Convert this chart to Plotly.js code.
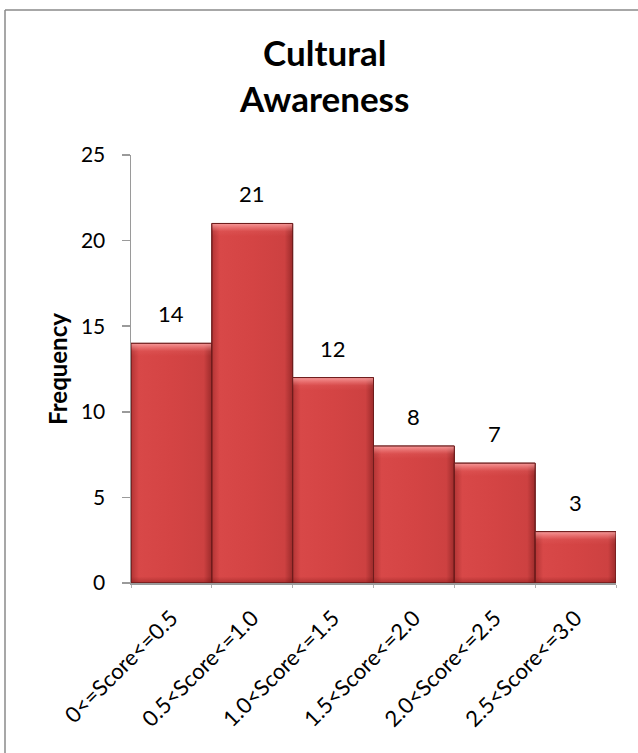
<!DOCTYPE html>
<html>
<head>
<meta charset="utf-8">
<script src="https://cdn.plot.ly/plotly-3.0.1.min.js"></script>
<style>
  html, body { margin: 0; padding: 0; background: #fff; overflow: hidden; }
  #chart { width: 638px; height: 753px; overflow: hidden; }
</style>
</head>
<body>
<div id="chart"></div>
<script>
// Score bins and how many respondents fell in each
const categories = [
  "0<=Score<=0.5",
  "0.5<Score<=1.0",
  "1.0<Score<=1.5",
  "1.5<Score<=2.0",
  "2.0<Score<=2.5",
  "2.5<Score<=3.0"
];
const frequency = [14, 21, 12, 8, 7, 3];
const yTicks = [0, 5, 10, 15, 20, 25];

const font = "Lato, 'Open Sans', sans-serif";

const trace = {
  type: "bar",
  x: categories,
  y: frequency,
  marker: {
    color: "#D44444",
    line: { color: "#6E1C1C", width: 1 }
  },
  hoverinfo: "x+y"
};

// value labels sit a little above each bar
const valueLabels = categories.map((c, i) => ({
  x: c,
  y: frequency[i],
  xref: "x",
  yref: "y",
  text: String(frequency[i]),
  showarrow: false,
  yanchor: "bottom",
  yshift: 14,
  font: { family: font, size: 22, color: "#000" }
}));

// chart frame: only the top and left edges fall inside the page
const frameLine = { color: "#8a8a8a", width: 1.5 };
const frameLeft = -0.2598, frameTop = 1.3388;

const layout = {
  width: 638,
  height: 753,
  margin: { l: 131, r: 22, t: 155, b: 170 },
  paper_bgcolor: "#fff",
  plot_bgcolor: "#fff",
  bargap: 0,
  showlegend: false,
  font: { family: font, color: "#000" },
  title: {
    text: "<b>Cultural<br>Awareness</b>",
    font: { family: font, size: 35, color: "#000" },
    x: 0.509, xanchor: "center",
    y: 0.912, yanchor: "top"
  },
  xaxis: {
    type: "category",
    tickangle: -45,
    tickfont: { family: font, size: 22, color: "#000" },
    ticklabelstandoff: 12,
    showline: true,
    linecolor: "#9a9a9a",
    linewidth: 1.5,
    ticks: "outside",
    tickson: "boundaries",
    ticklen: 3,
    tickcolor: "#b0b0b0",
    showgrid: false,
    zeroline: false
  },
  yaxis: {
    range: [0, 25],
    tickvals: yTicks,
    ticktext: yTicks.map(String),
    tickfont: { family: font, size: 21, color: "#000" },
    ticks: "outside",
    ticklen: 8,
    tickcolor: "#9a9a9a",
    tickwidth: 1.5,
    ticklabelstandoff: 12,
    showline: true,
    linecolor: "#9a9a9a",
    linewidth: 1.5,
    showgrid: false,
    zeroline: false,
    title: {
      text: "<b>Frequency</b>",
      font: { family: font, size: 24, color: "#000" },
      standoff: 6
    }
  },
  annotations: valueLabels,
  shapes: [
    {
      type: "line", xref: "paper", yref: "paper",
      x0: frameLeft, x1: frameLeft, y0: -1.0, y1: frameTop,
      line: frameLine, layer: "below"
    },
    {
      type: "line", xref: "paper", yref: "paper",
      x0: frameLeft, x1: 1.6, y0: frameTop, y1: frameTop,
      line: frameLine, layer: "below"
    }
  ]
};

// Bevelled look for the bars: darker side bands and a light top edge,
// built from each rendered bar's own box.
function bevelBars(gd) {
  const svg = gd.querySelector(".main-svg");
  const ns = "http://www.w3.org/2000/svg";
  let defs = svg.querySelector("defs");
  if (!defs) { defs = document.createElementNS(ns, "defs"); svg.prepend(defs); }

  const grad = (id, x1, y1, x2, y2, stops) => {
    const g = document.createElementNS(ns, "linearGradient");
    g.setAttribute("id", id);
    g.setAttribute("gradientUnits", "userSpaceOnUse");
    g.setAttribute("x1", x1); g.setAttribute("y1", y1);
    g.setAttribute("x2", x2); g.setAttribute("y2", y2);
    stops.forEach(([o, c]) => {
      const s = document.createElementNS(ns, "stop");
      s.setAttribute("offset", o);
      s.setAttribute("stop-color", c);
      g.appendChild(s);
    });
    defs.appendChild(g);
  };

  const band = 8;
  gd.querySelectorAll(".barlayer .point path").forEach((p, i) => {
    const b = p.getBBox();
    const fx = Math.min(band / b.width, 0.45);
    const fy = Math.min(band / b.height, 0.45);
    grad("barSide" + i, b.x, 0, b.x + b.width, 0, [
      [0, "#B33535"], [fx, "#D84848"], [0.5, "#D44444"],
      [1 - fx, "#CD4141"], [1, "#9C2B2B"]
    ]);
    grad("barTop" + i, 0, b.y, 0, b.y + b.height, [
      [0, "rgba(255,175,175,0.8)"], [fy, "rgba(255,150,150,0.1)"],
      [fy * 1.6, "rgba(255,150,150,0)"], [1 - fy * 0.8, "rgba(90,0,0,0)"],
      [1, "rgba(90,0,0,0.3)"]
    ]);
    p.style.fill = "url(#barSide" + i + ")";
    const overlay = p.cloneNode(false);
    overlay.style.fill = "url(#barTop" + i + ")";
    overlay.style.stroke = "#6E1C1C";
    p.parentNode.insertBefore(overlay, p.nextSibling);
  });
}

Plotly.newPlot("chart", [trace], layout, { displayModeBar: false, staticPlot: true })
  .then(bevelBars);
</script>
</body>
</html>
